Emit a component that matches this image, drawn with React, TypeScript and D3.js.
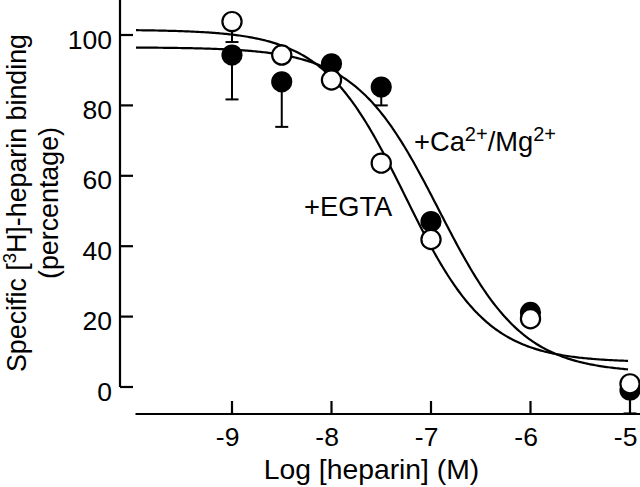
import React from "react";
import * as d3 from "d3";

// ---- data ----
const logConc = [-9, -8.5, -8, -7.5, -7, -6, -5];
const caMgValues = [94.3, 86.7, 91.8, 85.2, 47.0, 21.2, -0.9];
const caMgErrLow = [81.7, 73.9, null, 80.0, null, null, -7.5];
const egtaValues = [103.8, 94.3, 87.2, 63.6, 41.9, 19.4, 0.9];
const egtaErrLow = [98.0, null, null, null, null, null, null];
// fitted logistic curves: [top, bottom, logIC50, hill]
const caMgFit = [96.5, 4.0, -6.92, 1.03];
const egtaFit = [101.5, 7.0, -7.26, 1.05];
const xTicks = [-9, -8, -7, -6, -5];
const yTicks = [0, 20, 40, 60, 80, 100];
const curveRange = [-9.965, -5.02];

const FONT = "'Liberation Sans', Arial, Helvetica, sans-serif";

function fitValue(p: number[], x: number) {
  const [top, bottom, c, h] = p;
  return bottom + (top - bottom) / (1 + Math.pow(10, (x - c) * h));
}

export default function App() {
  const x = d3.scaleLinear().domain([-9, -5]).range([232, 630]);
  const y = d3.scaleLinear().domain([0, 100]).range([387, 35]);
  const axisX = 120;
  const axisY = 414;
  const tickLen = 13;
  const r = 9.6;

  const samples = d3.range(0, 301).map(
    (i) => curveRange[0] + (i / 300) * (curveRange[1] - curveRange[0])
  );
  const makePath = (p: number[]) =>
    d3
      .line<number>()
      .x((d) => x(d))
      .y((d) => y(fitValue(p, d)))(samples) as string;
  const caPath = makePath(caMgFit);
  const egtaPath = makePath(egtaFit);

  const errBars = (vals: number[], lows: (number | null)[], key: string) =>
    logConc.map((c, i) => {
      const lo = lows[i];
      if (lo == null) return null;
      const cx = x(c);
      return (
        <g key={key + i}>
          <line x1={cx} x2={cx} y1={y(vals[i])} y2={y(lo)} stroke="#000" strokeWidth={2} />
          <line x1={cx - 6.5} x2={cx + 6.5} y1={y(lo)} y2={y(lo)} stroke="#000" strokeWidth={2} />
        </g>
      );
    });

  return (
    <svg
      width={640}
      height={487}
      style={{ position: "absolute", left: 0, top: 0, background: "#fff" }}
      fontFamily={FONT}
    >
      <rect x={0} y={0} width={640} height={487} fill="#fff" />
      {/* y axis */}
      <line x1={axisX} x2={axisX} y1={0} y2={y(0)} stroke="#000" strokeWidth={2.2} />
      {yTicks.map((t) => (
        <g key={"yt" + t}>
          <line x1={axisX} x2={axisX + tickLen} y1={y(t)} y2={y(t)} stroke="#000" strokeWidth={2.2} />
          <text x={112} y={y(t) + 13.5} fontSize={26.5} textAnchor="end" fill="#000">
            {t}
          </text>
        </g>
      ))}
      {/* x axis */}
      <line x1={x(-9.97)} x2={640} y1={axisY} y2={axisY} stroke="#000" strokeWidth={2.2} />
      {xTicks.map((t) => (
        <g key={"xt" + t}>
          <line x1={x(t)} x2={x(t)} y1={axisY} y2={axisY - tickLen} stroke="#000" strokeWidth={2.2} />
          <text x={x(t) + 7.4} y={446} fontSize={26.5} textAnchor="end" fill="#000">
            {"-" + Math.abs(t)}
          </text>
        </g>
      ))}
      {/* axis titles */}
      <text x={371.5} y={479} fontSize={28.3} textAnchor="middle" fill="#000">
        Log [heparin] (M)
      </text>
      <g transform="translate(25.5,203) rotate(-90)">
        <text x={0} y={0} fontSize={26.8} textAnchor="middle" fill="#000">
          Specific [<tspan fontSize={18.5} dy={-10}>3</tspan>
          <tspan dy={10}>H]-heparin binding</tspan>
        </text>
      </g>
      <g transform="translate(58,203) rotate(-90)">
        <text x={0} y={0} fontSize={26.8} textAnchor="middle" fill="#000">
          (percentage)
        </text>
      </g>
      {/* fitted curves */}
      <path d={caPath} fill="none" stroke="#000" strokeWidth={2.2} />
      <path d={egtaPath} fill="none" stroke="#000" strokeWidth={2.2} />
      {/* error bars */}
      {errBars(caMgValues, caMgErrLow, "ce")}
      {errBars(egtaValues, egtaErrLow, "ee")}
      {/* points */}
      {logConc.map((c, i) => (
        <circle key={"cm" + i} cx={x(c)} cy={y(caMgValues[i])} r={r} fill="#000" stroke="#000" strokeWidth={2} />
      ))}
      {logConc.map((c, i) => (
        <circle key={"eg" + i} cx={x(c)} cy={y(egtaValues[i])} r={r} fill="#fff" stroke="#000" strokeWidth={2.2} />
      ))}
      {/* labels */}
      <text x={414} y={151} fontSize={27.3} fill="#000">
        +Ca<tspan fontSize={20} dy={-10}>2+</tspan>
        <tspan dy={10}>/Mg</tspan>
        <tspan fontSize={20} dy={-10}>2+</tspan>
      </text>
      <text x={304} y={216} fontSize={27.3} fill="#000">
        +EGTA
      </text>
    </svg>
  );
}
